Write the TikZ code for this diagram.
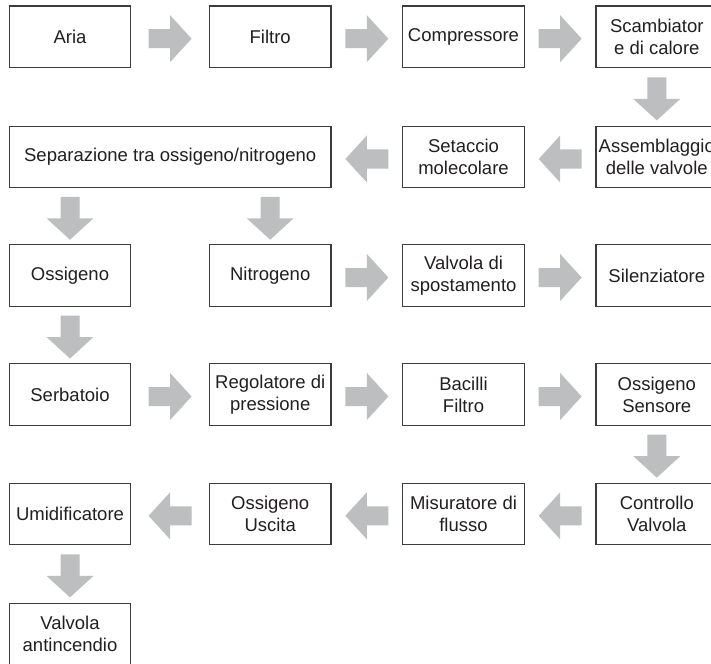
\documentclass[tikz,border=0pt]{standalone}
\usepackage{fontspec}
\setmainfont{Liberation Sans}
\usetikzlibrary{calc}
\definecolor{arrowgray}{HTML}{BDBEC0}
\definecolor{boxline}{HTML}{3C3C3C}
\definecolor{txt}{HTML}{231F20}
\tikzset{
  box/.style={draw=boxline, line width=1.2pt, minimum width=121.5pt, minimum height=61.3pt,
    inner sep=0pt, align=center, text=txt, font=\fontsize{18.5}{22}\selectfont},
  fatarrow/.pic={\fill[arrowgray] (-21.5,-9.5) -- (0,-9.5) -- (0,-23.5) -- (21.5,0) -- (0,23.5) -- (0,9.5) -- (-21.5,9.5) -- cycle;}
}
\begin{document}
\begin{tikzpicture}[x=1pt,y=-1pt]
\useasboundingbox (0,0) rectangle (711,663);
\clip (0,0) rectangle (711,663);
\fill[white] (0,0) rectangle (711,663);
% row 1
\node[box] (aria) at (70,36.7) {Aria};
\node[box] (filtro) at (270.2,36.7) {Filtro};
\node[box] (comp) at (463.5,36.7) {Compressore};
\node[box] (scamb) at (656.8,36.7) {Scambiator\\e di calore};
% row 2
\node[box, minimum width=321.7pt] (sep) at (170.2,157) {Separazione tra ossigeno/nitrogeno};
\node[box] (set) at (463.5,157) {Setaccio\\molecolare};
\node[box] (ass) at (656.8,157) {Assemblaggio\\delle valvole};
% row 3
\node[box] (oss) at (70,275.5) {Ossigeno};
\node[box] (nit) at (270.2,275.5) {Nitrogeno};
\node[box] (vsp) at (463.5,275.5) {Valvola di\\spostamento};
\node[box] (sil) at (656.8,275.5) {Silenziatore};
% row 4
\node[box] (serb) at (70,394.5) {Serbatoio};
\node[box] (reg) at (270.2,394.5) {Regolatore di\\pressione};
\node[box] (bac) at (463.5,394.5) {Bacilli\\Filtro};
\node[box] (osen) at (656.8,394.5) {Ossigeno\\Sensore};
% row 5
\node[box] (umid) at (70,513.8) {Umidificatore};
\node[box] (ousc) at (270.2,513.8) {Ossigeno\\Uscita};
\node[box] (mis) at (463.5,513.8) {Misuratore di\\flusso};
\node[box] (ctrl) at (656.8,513.8) {Controllo\\Valvola};
% row 6
\node[box] (vant) at (70,634) {Valvola\\antincendio};
% arrows right
\pic at ($(aria.east)!0.5!(filtro.west)+(0,2)$) {fatarrow};
\pic at ($(filtro.east)!0.5!(comp.west)+(0,2)$) {fatarrow};
\pic at ($(comp.east)!0.5!(scamb.west)+(0,2)$) {fatarrow};
\pic at ($(nit.east)!0.5!(vsp.west)+(0,2)$) {fatarrow};
\pic at ($(vsp.east)!0.5!(sil.west)+(0,2)$) {fatarrow};
\pic at ($(serb.east)!0.5!(reg.west)+(0,2)$) {fatarrow};
\pic at ($(reg.east)!0.5!(bac.west)+(0,2)$) {fatarrow};
\pic at ($(bac.east)!0.5!(osen.west)+(0,2)$) {fatarrow};
% arrows left
\pic[rotate=180] at ($(ass.west)!0.5!(set.east)+(0,2)$) {fatarrow};
\pic[rotate=180] at ($(set.west)!0.5!(sep.east)+(0,2)$) {fatarrow};
\pic[rotate=180] at ($(ctrl.west)!0.5!(mis.east)+(0,2)$) {fatarrow};
\pic[rotate=180] at ($(mis.west)!0.5!(ousc.east)+(0,2)$) {fatarrow};
\pic[rotate=180] at ($(ousc.west)!0.5!(umid.east)+(0,2)$) {fatarrow};
% arrows down
\pic[rotate=-90] at ($(scamb.south)!0.5!(ass.north)+(0,2)$) {fatarrow};
\pic[rotate=-90] at ($(sep.south -| oss.north)!0.5!(oss.north)+(0,2)$) {fatarrow};
\pic[rotate=-90] at ($(sep.south -| nit.north)!0.5!(nit.north)+(0,2)$) {fatarrow};
\pic[rotate=-90] at ($(oss.south)!0.5!(serb.north)+(0,2)$) {fatarrow};
\pic[rotate=-90] at ($(osen.south)!0.5!(ctrl.north)+(0,2)$) {fatarrow};
\pic[rotate=-90] at ($(umid.south)!0.5!(vant.north)+(0,2)$) {fatarrow};
\end{tikzpicture}
\end{document}
